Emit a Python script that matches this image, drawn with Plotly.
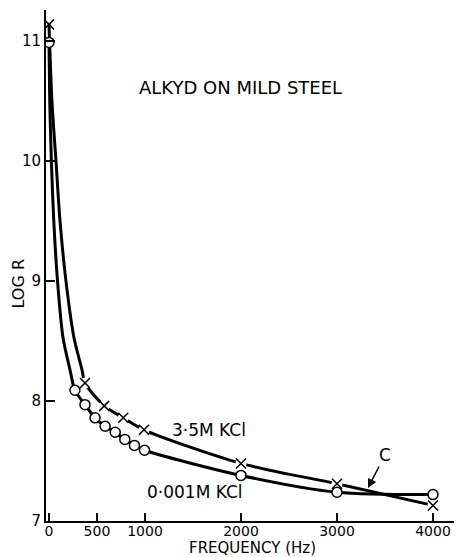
import plotly.graph_objects as go

# ---- data ----
# 0.001M KCl (open circles): measured points
low_f = [0, 270, 375, 480, 585, 690, 790, 890, 995, 2000, 3000, 4000]
low_logr = [10.99, 8.09, 7.97, 7.86, 7.79, 7.74, 7.68, 7.63, 7.59, 7.38, 7.24, 7.22]
# drawn curve through the 0.001M points
low_curve_f = [0, 8, 25, 50, 89, 146, 219, 270, 375, 480, 585, 690, 790, 890, 995, 2000, 3000, 4000]
low_curve_logr = [10.99, 10.5, 10.0, 9.5, 9.0, 8.53, 8.26, 8.09, 7.97, 7.86, 7.79, 7.74, 7.68, 7.63, 7.59, 7.38, 7.24, 7.22]

# 3.5M KCl (crosses): measured points
high_f = [0, 375, 576, 774, 990, 2000, 3000, 4000]
high_logr = [11.14, 8.15, 7.96, 7.86, 7.76, 7.48, 7.31, 7.13]
# drawn curve through the 3.5M points
high_curve_f = [0, 31, 73, 115, 177, 260, 344, 375, 576, 774, 990, 2000, 3000, 4000]
high_curve_logr = [11.14, 10.5, 10.0, 9.5, 9.0, 8.53, 8.26, 8.15, 7.96, 7.86, 7.76, 7.48, 7.31, 7.13]

x_ticks = [0, 500, 1000, 2000, 3000, 4000]
y_ticks = [7, 8, 9, 10, 11]

FONT = "DejaVu Sans"

fig = go.Figure()

fig.add_trace(go.Scatter(x=low_curve_f, y=low_curve_logr, mode="lines",
                         line=dict(color="black", width=3, shape="spline", smoothing=0.8),
                         hoverinfo="skip", showlegend=False))
fig.add_trace(go.Scatter(x=high_curve_f, y=high_curve_logr, mode="lines",
                         line=dict(color="black", width=3, shape="spline", smoothing=0.8),
                         hoverinfo="skip", showlegend=False))
# white gaps around the crosses
fig.add_trace(go.Scatter(x=high_f[1:], y=high_logr[1:], mode="markers",
                         marker=dict(symbol="circle", size=11, color="white", line=dict(width=0)),
                         hoverinfo="skip", showlegend=False))
fig.add_trace(go.Scatter(x=low_f, y=low_logr, mode="markers", name="0·001M KCl",
                         marker=dict(symbol="circle", size=10, color="white",
                                     line=dict(color="black", width=1.5)),
                         showlegend=False))
fig.add_trace(go.Scatter(x=high_f, y=high_logr, mode="markers", name="3·5M KCl",
                         marker=dict(symbol="x-thin", size=10, color="black",
                                     line=dict(color="black", width=1.5)),
                         showlegend=False))

fig.add_annotation(x=2000, y=10.61, text="ALKYD ON MILD STEEL", showarrow=False,
                   font=dict(family=FONT, size=18, color="black"))
fig.add_annotation(x=1667, y=7.76, text="3·5M KCl", showarrow=False,
                   font=dict(family=FONT, size=17, color="black"))
fig.add_annotation(x=1521, y=7.24, text="0·001M KCl", showarrow=False,
                   font=dict(family=FONT, size=17, color="black"))
fig.add_annotation(x=3323, y=7.275, ax=3500, ay=7.55, axref="x", ayref="y",
                   text="C", showarrow=True, arrowhead=2, arrowsize=1.2, arrowwidth=1.5,
                   arrowcolor="black", standoff=0,
                   font=dict(family=FONT, size=17, color="black"))
# axis titles as positioned text
fig.add_annotation(xref="paper", yref="paper", x=(252 - 46) / 408, y=(521 - 548) / 511,
                   text="FREQUENCY (Hz)", showarrow=False, xanchor="center", yanchor="middle",
                   font=dict(family=FONT, size=15, color="black"))
fig.add_annotation(xref="paper", yref="y", x=(18 - 46) / 408, y=8.98,
                   text="LOG R", showarrow=False, textangle=-90, xanchor="center", yanchor="middle",
                   font=dict(family=FONT, size=16, color="black"))

fig.update_layout(
    width=457, height=557,
    margin=dict(l=46, r=3, t=10, b=36),
    paper_bgcolor="white", plot_bgcolor="white",
    font=dict(family=FONT, size=15, color="black"),
    showlegend=False,
)
fig.update_xaxes(range=[-31, 4219], tickvals=x_ticks, ticktext=[str(v) for v in x_ticks],
                 showgrid=False, zeroline=False, showline=True, linecolor="black", linewidth=2,
                 ticks="inside", ticklen=8, tickwidth=1.5, tickcolor="black",
                 ticklabelstandoff=-4,
                 tickfont=dict(family=FONT, size=14))
fig.update_yaxes(range=[7, 11.26], tickvals=y_ticks, ticktext=[str(v) for v in y_ticks],
                 showgrid=False, zeroline=False, showline=True, linecolor="black", linewidth=2,
                 ticks="inside", ticklen=9, tickwidth=1.5, tickcolor="black",
                 tickfont=dict(family=FONT, size=15))

fig.write_html("out.html")
